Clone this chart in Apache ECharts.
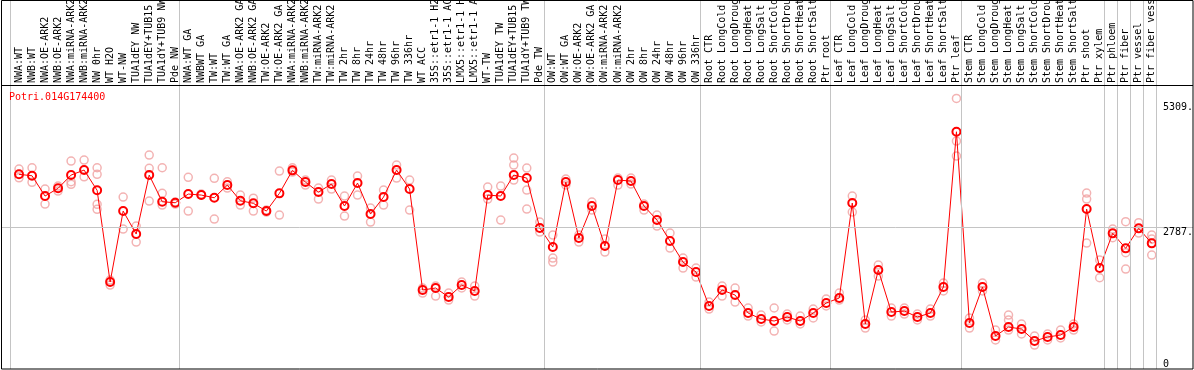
<!DOCTYPE html>
<html>
<head>
<meta charset="utf-8">
<script src="https://cdn.jsdelivr.net/npm/echarts@6/dist/echarts.min.js"></script>
<style>html,body{margin:0;padding:0;background:#fff;}#c{width:1194px;height:370px;}</style>
</head>
<body>
<div id="c"></div>
<script>
const geneId = 'Potri.014G174400';
const categories = [
 'NWA:WT','NWB:WT','NWA:OE-ARK2','NWB:OE-ARK2','NWA:miRNA-ARK2','NWB:miRNA-ARK2','NW 0hr','WT H2O','WT-NW','TUA1dEY NW','TUA1dEY+TUB15','TUA1dY+TUB9 NW','Pde NW',
 'NWA:WT GA','NWBWT GA','TW:WT','TW:WT GA','NWA:OE-ARK2 GA','NWB:OE-ARK2 GA','TW:OE-ARK2','TW:OE-ARK2 GA','NWA:miRNA-ARK2','NWB:miRNA-ARK2','TW:miRNA-ARK2','TW:miRNA-ARK2',
 'TW 2hr','TW 8hr','TW 24hr','TW 48hr','TW 96hr','TW 336hr','WT ACC','35S::etr1-1 H2O','35S::etr1-1 ACC','LMX5::etr1-1 H2O','LMX5::etr1-1 ACC','WT-TW','TUA1dEY TW','TUA1dEY+TUB15','TUA1dY+TUB9 TW','Pde TW',
 'OW:WT','OW:WT GA','OW:OE-ARK2','OW:OE-ARK2 GA','OW:miRNA-ARK2','OW:miRNA-ARK2','OW 2hr','OW 8hr','OW 24hr','OW 48hr','OW 96hr','OW 336hr',
 'Root CTR','Root LongCold','Root LongDrought','Root LongHeat','Root LongSalt','Root ShortCold','Root ShortDrought','Root ShortHeat','Root ShortSalt','Ptr root',
 'Leaf CTR','Leaf LongCold','Leaf LongDrought','Leaf LongHeat','Leaf LongSalt','Leaf ShortCold','Leaf ShortDrought','Leaf ShortHeat','Leaf ShortSalt','Ptr leaf',
 'Stem CTR','Stem LongCold','Stem LongDrought','Stem LongHeat','Stem LongSalt','Stem ShortCold','Stem ShortDrought','Stem ShortHeat','Stem ShortSalt','Ptr shoot','Ptr xylem',
 'Ptr phloem','Ptr fiber','Ptr vessel','Ptr fiber vessel'
];
const means = [
 3858,3829,3422,3577,3843,3944,3537,1697,3121,2660,3843,3308,3288,
 3462,3442,3388,3643,3328,3276,3121,3476,3938,3703,3502,3663,
 3222,3683,3061,3402,3944,3563,1537,1577,1396,1637,1517,3442,3422,3843,3783,2780,
 2399,3703,2580,3222,2419,3743,3723,3222,2941,2520,2098,1898,
 1216,1537,1436,1075,955,915,995,915,1075,1276,
 1376,3282,855,1938,1095,1115,995,1075,1597,4712,
 875,1597,614,794,754,514,594,634,794,3161,1978,
 2674,2373,2774,2473
];
const replicates = [
 [3964,3789],[3990,3697],[3563,3262],[3523,3623],[4124,3709,3657],[4144,3809],[3990,3858,3256,3155],[1737,1637],[3402,2760],[2820,2499],[4245,3978,3322],[3990,3476,3242],[3302,3262],
 [3797,3121],[3442,3462],[3777,2961],[3709,3583],[3442,3242],[3380,3121],[3141,3101],[3924,3041],[3990,3904],[3743,3643],[3583,3362],[3743,3563],
 [3422,3021],[3823,3442],[3182,2901],[3543,3242],[4044,3783],[3743,3141],[1577,1476],[1617,1416],[1476,1336],[1697,1577],[1617,1416],[3603,3362],[3623,2941],[4185,4044,3743],[3984,3543,3162],[2901,2700],
 [2640,2178,2098],[3763,3643],[2640,2499],[3302,3141],[2560,2299],[3783,3643],[3783,3663],[3262,3141],[3041,2820],[2680,2379],[2178,1978],[1978,1797],
 [1296,1155],[1617,1416],[1577,1296],[1176,1015],[1035,895],[1176,714],[1055,935],[1015,855],[1155,975],[1356,1216],
 [1476,1336],[3422,3101],[935,774],[2038,1817],[1176,1015],[1176,1055],[1055,935],[1155,1015],[1677,1517],[5382,4526,4225],
 [975,774],[1677,1517],[734,534],[1035,935,734],[855,654],[614,433],[654,534],[734,574],[855,734],[3482,3362,2479],[2138,1783],
 [2586,2760],[2907,2285,1958],[2887,2680],[2640,2560,2239]
];
const yTickValues = [0, 2787, 5309];
const yTickLabels = ['0', '2787.', '5309.'];
const groupStarts = [0, 13, 41, 53, 63, 73, 84, 85, 86, 87, 88];
const gridLineValue = 2787;

const FONT = '"DejaVu Sans Mono", monospace';
const repData = [];
replicates.forEach((arr, i) => arr.forEach(v => repData.push([i, v])));

const chart = echarts.init(document.getElementById('c'), null, {renderer: 'canvas'});
const option = {
  animation: false,
  backgroundColor: '#fff',
  title: {
    text: geneId, left: 9, top: 92, padding: 0,
    textStyle: {color: '#ff0000', fontSize: 10, fontWeight: 'normal', fontFamily: FONT}
  },
  grid: [
    {left: 2, right: 1, top: 0, bottom: 1, outerBoundsMode: 'none', containLabel: false},
    {left: 12.49, right: 35.75, top: 85, bottom: 3.4, outerBoundsMode: 'none', containLabel: false}
  ],
  xAxis: [
    {type: 'value', gridIndex: 0, min: -1.3057, max: 90.169, show: false},
    {type: 'category', gridIndex: 1, position: 'top', data: categories, boundaryGap: true,
     axisLine: {show: false}, axisTick: {show: false}, splitLine: {show: false},
     axisLabel: {rotate: 90, interval: 0, margin: 2, fontSize: 10, fontFamily: FONT, color: '#000', hideOverlap: false}}
  ],
  yAxis: [
    {type: 'value', gridIndex: 0, min: -48, max: 7356, show: false},
    {type: 'value', gridIndex: 1, show: false}
  ],
  series: [
    {
      type: 'line', xAxisIndex: 0, yAxisIndex: 0, data: [], z: 1, silent: true,
      markLine: {
        silent: true, symbol: 'none', animation: false,
        label: {show: false},
        lineStyle: {color: '#c4c4c4', width: 1, type: 'solid'},
        data: groupStarts.map(s => ({xAxis: s - 0.66})).concat([{yAxis: gridLineValue}])
      }
    },
    {
      type: 'scatter', xAxisIndex: 0, yAxisIndex: 0, data: repData, z: 2,
      symbol: 'circle', symbolSize: 8,
      itemStyle: {color: 'rgba(0,0,0,0)', borderColor: '#f0a0a0', borderWidth: 1.5}
    },
    {
      type: 'line', xAxisIndex: 0, yAxisIndex: 0, data: means.map((v, i) => [i, v]), z: 3,
      symbol: 'circle', symbolSize: 8, showSymbol: true,
      lineStyle: {color: '#ff0000', width: 1},
      itemStyle: {color: 'rgba(0,0,0,0)', borderColor: '#ff0000', borderWidth: 2}
    }
  ],
  graphic: [
    {type: 'rect', shape: {x: 1.5, y: 0.5, width: 1191.5, height: 368.5}, style: {fill: 'none', stroke: '#000', lineWidth: 1}, z: 10},
    {type: 'line', shape: {x1: 1.5, y1: 85.5, x2: 1193, y2: 85.5}, style: {stroke: '#000', lineWidth: 1}, z: 10}
  ]
};
chart.setOption(option);

const labelGraphics = yTickValues.map((v, k) => {
  let py = chart.convertToPixel({gridIndex: 0}, [0, v])[1];
  py = Math.min(py, 359.5);
  return {type: 'text', x: 1163, y: py, z: 11,
          style: {text: yTickLabels[k], fill: '#000', fontSize: 10, fontFamily: FONT, align: 'left', verticalAlign: 'top'}};
});
chart.setOption({graphic: option.graphic.concat(labelGraphics)});
</script>
</body>
</html>
